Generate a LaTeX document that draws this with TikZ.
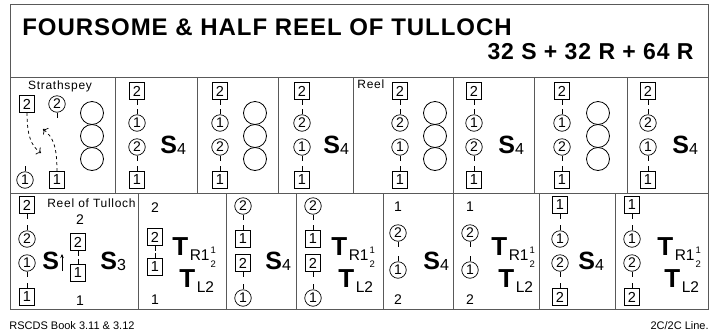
\documentclass[tikz,border=0pt]{standalone}
\usepackage{fontspec}
\setmainfont{Liberation Sans}
\newfontfamily\ttlfont[LetterSpace=4]{Liberation Sans}
\newfontfamily\lblfont[LetterSpace=6]{Liberation Sans}
\usetikzlibrary{arrows.meta}

\tikzset{every picture/.style={line width=0.75pt}}
\tikzset{
  frame/.style={draw=black!65, line width=1pt},
  man/.style={draw, rectangle, minimum width=15, minimum height=17, inner sep=0pt, line width=0.7pt, font=\fontsize{14.5}{14.5}\selectfont},
  lady/.style={draw, circle, minimum size=16.5, inner sep=0pt, line width=0.7pt, font=\fontsize{14}{14}\selectfont},
  bigset/.style={draw, circle, minimum size=23, inner sep=0pt, line width=0.8pt},
  num/.style={inner sep=0pt, font=\fontsize{14}{14}\selectfont},
  fdn/.style={append after command={(\tikzlastnode.south) edge[draw, line width=0.6pt] +(0,5)}},
  fup/.style={append after command={(\tikzlastnode.north) edge[draw, line width=0.6pt] +(0,-5)}},
  fig/.style={anchor=base west, inner sep=0pt},
  lbl/.style={inner sep=0pt, font=\lblfont\fontsize{12}{12}\selectfont},
}
\newcommand\bigS{{\fontsize{25}{25}\selectfont\bfseries S}}
\newcommand\bigT{{\fontsize{26}{26}\selectfont\bfseries T}}
\newcommand\figsub[1]{\raisebox{-1pt}{\fontsize{16}{16}\selectfont #1}}
\newcommand\tsub[1]{\kern1.5pt\raisebox{-5pt}{\fontsize{15.5}{15.5}\selectfont #1}}
\newcommand\halfup{\kern1pt\rlap{\raisebox{7pt}{\fontsize{9.5}{9.5}\selectfont 1}}\raisebox{-7pt}{\fontsize{9.5}{9.5}\selectfont 2}}

\begin{document}
\begin{tikzpicture}[x=1pt,y=1pt,yscale=-1,xscale=1]
\useasboundingbox (0,0) rectangle (715,333);

%Frame
\draw[frame] (10,4) rectangle (708,309);
\draw[frame] (10,77) -- (708,77);
\draw[frame] (10,193) -- (708,193);
%Dividers, upper row
\draw[frame] (115,77) -- (115,193);
\draw[frame] (197,77) -- (197,193);
\draw[frame] (278,77) -- (278,193);
\draw[frame] (353,77) -- (353,193);
\draw[frame] (453,77) -- (453,193);
\draw[frame] (534,77) -- (534,193);
\draw[frame] (627,77) -- (627,193);
%Dividers, lower row
\draw[frame] (138,193) -- (138,309);
\draw[frame] (226,193) -- (226,309);
\draw[frame] (296,193) -- (296,309);
\draw[frame] (383,193) -- (383,309);
\draw[frame] (453,193) -- (453,309);
\draw[frame] (539,193) -- (539,309);
\draw[frame] (615,193) -- (615,309);

% Text Node
\node[anchor=base west, inner sep=0pt, font=\ttlfont\bfseries\fontsize{24}{24}\selectfont] (title) at (22,35) {FOURSOME \& HALF REEL OF TULLOCH};
% Text Node
\node[anchor=base east, inner sep=0pt, font=\ttlfont\bfseries\fontsize{23}{23}\selectfont] (bars) at (694,59) {32 S + 32 R + 64 R};

%Cell 1: Strathspey
\node[lbl, anchor=base] (strath) at (60,89) {Strathspey};
\node[man] (s1m2) at (27,104) {2};
\node[lady, fdn] (s1w2) at (57,104) {2};
\node[lady, fup] (s1w1) at (25,180) {1};
\node[man] (s1m1) at (57,180) {1};
\node[bigset] (s1r1) at (92,113) {};
\node[bigset] (s1r2) at (92,136) {};
\node[bigset] (s1r3) at (92,159) {};
\coordinate (s1e1) at (41,153);
\coordinate (s1e2) at (43,129);
\draw[dashed, -{To[length=4pt]}] (s1m2.south) .. controls (27,135) and (31,146) .. (s1e1);
\draw[dashed, -{To[length=4pt]}] (s1m1.north) .. controls (57,146) and (53,137) .. (s1e2);

%Cell 2
\node[man, fdn] (s2m2) at (137,91) {2};
\node[lady, fup] (s2w1) at (137,123) {1};
\node[lady, fdn] (s2w2) at (137,147) {2};
\node[man, fup] (s2m1) at (137,180) {1};
\node[fig] (s2f) at (160,153) {\bigS\figsub{4}};

%Cell 3
\node[man, fdn] (s3m2) at (220,91) {2};
\node[lady, fup] (s3w1) at (220,123) {1};
\node[lady, fdn] (s3w2) at (220,147) {2};
\node[man, fup] (s3m1) at (220,180) {1};
\node[bigset] (s3r1) at (255,113) {};
\node[bigset] (s3r2) at (255,136) {};
\node[bigset] (s3r3) at (255,159) {};

%Cell 4
\node[man, fdn] (s4m2) at (302,91) {2};
\node[lady, fup] (s4w2) at (302,123) {2};
\node[lady, fdn] (s4w1) at (302,147) {1};
\node[man, fup] (s4m1) at (302,180) {1};
\node[fig] (s4f) at (323,153) {\bigS\figsub{4}};

%Cell 5: Reel
\node[lbl, anchor=base west] (reel) at (357,88) {Reel};
\node[man, fdn] (s5m2) at (400,91) {2};
\node[lady, fup] (s5w2) at (400,123) {2};
\node[lady, fdn] (s5w1) at (400,147) {1};
\node[man, fup] (s5m1) at (400,180) {1};
\node[bigset] (s5r1) at (435,113) {};
\node[bigset] (s5r2) at (435,136) {};
\node[bigset] (s5r3) at (435,159) {};

%Cell 6
\node[man, fdn] (s6m2) at (474,91) {2};
\node[lady, fup] (s6w1) at (474,123) {1};
\node[lady, fdn] (s6w2) at (474,147) {2};
\node[man, fup] (s6m1) at (474,180) {1};
\node[fig] (s6f) at (498,153) {\bigS\figsub{4}};

%Cell 7
\node[man, fdn] (s7m2) at (562,91) {2};
\node[lady, fup] (s7w1) at (562,123) {1};
\node[lady, fdn] (s7w2) at (562,147) {2};
\node[man, fup] (s7m1) at (562,180) {1};
\node[bigset] (s7r1) at (598,113) {};
\node[bigset] (s7r2) at (598,136) {};
\node[bigset] (s7r3) at (598,159) {};

%Cell 8
\node[man, fdn] (s8m2) at (648,91) {2};
\node[lady, fup] (s8w2) at (648,123) {2};
\node[lady, fdn] (s8w1) at (648,147) {1};
\node[man, fup] (s8m1) at (648,180) {1};
\node[fig] (s8f) at (672,153) {\bigS\figsub{4}};

%Cell A: Reel of Tulloch
\node[lbl, anchor=base west] (tulloch) at (47,207) {Reel of Tulloch};
\node[man, fdn] (t1m2) at (27,205) {2};
\node[lady, fup] (t1w2) at (27,239) {2};
\node[lady, fdn] (t1w1) at (27,263) {1};
\node[man, fup] (t1m1) at (27,297) {1};
\node[num] (t1n2) at (80,220) {2};
\node[man, fdn] (t1c2) at (78,242) {2};
\node[man, fup] (t1c1) at (78,273) {1};
\node[num] (t1n1) at (80,301) {1};
\node[fig] (t1f) at (42,269) {\bigS};
\coordinate (t1a1) at (62,271);
\coordinate (t1a2) at (62,254);
\draw[line width=0.7pt, -{Stealth[length=4pt,width=3.5pt]}] (t1a1) -- (t1a2);
\node[fig] (t1g) at (100,269) {\bigS\figsub{3}};

%Cell B
\node[num] (t2n2) at (155,208) {2};
\node[man, fdn] (t2m2) at (155,237) {2};
\node[man, fup] (t2m1) at (155,267) {1};
\node[num] (t2n1) at (155,300) {1};
\node[fig] (t2f) at (172,255) {\bigT\tsub{R1\halfup}};
\node[fig] (t2g) at (179,287) {\bigT\tsub{L2}};

%Cell C
\node[lady, fdn] (t3w2) at (243,206) {2};
\node[man, fup] (t3m1) at (243,239) {1};
\node[man, fdn] (t3m2) at (243,263) {2};
\node[lady, fup] (t3w1) at (243,298) {1};
\node[fig] (t3f) at (265,269) {\bigS\figsub{4}};

%Cell D
\node[lady, fdn] (t4w2) at (313,206) {2};
\node[man, fup] (t4m1) at (313,239) {1};
\node[man, fdn] (t4m2) at (313,263) {2};
\node[lady, fup] (t4w1) at (313,298) {1};
\node[fig] (t4f) at (331,255) {\bigT\tsub{R1\halfup}};
\node[fig] (t4g) at (338,287) {\bigT\tsub{L2}};

%Cell E
\node[num] (t5n1) at (398,207) {1};
\node[lady, fdn] (t5w2) at (398,233) {2};
\node[lady, fup] (t5w1) at (398,270) {1};
\node[num] (t5n2) at (398,300) {2};
\node[fig] (t5f) at (423,269) {\bigS\figsub{4}};

%Cell F
\node[num] (t6n1) at (470,207) {1};
\node[lady, fdn] (t6w2) at (470,233) {2};
\node[lady, fup] (t6w1) at (470,270) {1};
\node[num] (t6n2) at (470,300) {2};
\node[fig] (t6f) at (491,255) {\bigT\tsub{R1\halfup}};
\node[fig] (t6g) at (498,287) {\bigT\tsub{L2}};

%Cell G
\node[man, fdn] (t7m1) at (560,205) {1};
\node[lady, fup] (t7w1) at (560,239) {1};
\node[lady, fdn] (t7w2) at (560,263) {2};
\node[man, fup] (t7m2) at (560,297) {2};
\node[fig] (t7f) at (578,269) {\bigS\figsub{4}};

%Cell H
\node[man, fdn] (t8m1) at (632,205) {1};
\node[lady, fup] (t8w1) at (632,239) {1};
\node[lady, fdn] (t8w2) at (632,263) {2};
\node[man, fup] (t8m2) at (632,297) {2};
\node[fig] (t8f) at (657,255) {\bigT\tsub{R1\halfup}};
\node[fig] (t8g) at (664,287) {\bigT\tsub{L2}};

% Text Node
\node[anchor=base west, inner sep=0pt, font=\fontsize{11}{11}\selectfont] (book) at (9,329) {RSCDS Book 3.11 \& 3.12};
% Text Node
\node[anchor=base east, inner sep=0pt, font=\fontsize{11}{11}\selectfont] (form) at (709,329) {2C/2C Line.};

\end{tikzpicture}
\end{document}
